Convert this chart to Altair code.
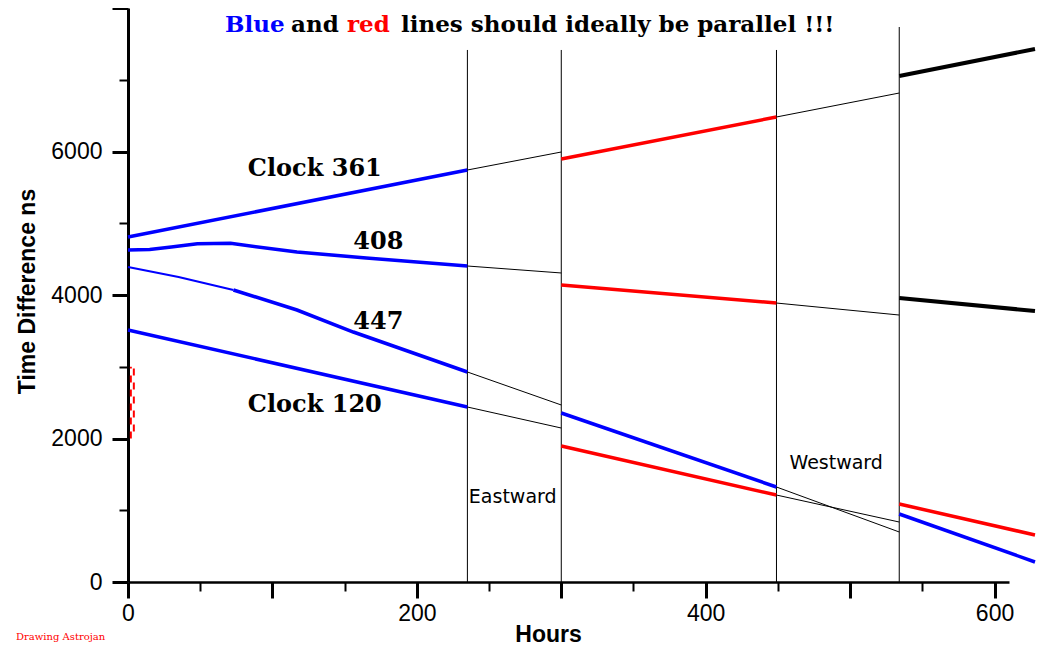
import altair as alt
import pandas as pd

# ---------------- data (hours, ns) ----------------
trip_hours = [235, 300, 449, 534]
trip_tops = [7415, 7415, 7415, 7735]

# Clock 361
c361_pre_h, c361_pre_v = [0, 235], [4808, 5742]
c361_gap1_h, c361_gap1_v = [235, 300], [5742, 5993]
c361_east_h, c361_east_v = [300, 449], [5895, 6481]
c361_gap2_h, c361_gap2_v = [449, 534], [6481, 6815]
c361_west_h, c361_west_v = [534, 628], [7052, 7429]

# Clock 408
c408_pre_h, c408_pre_v = [0, 15, 30, 48, 71, 117, 165, 235], [4627, 4635, 4669, 4715, 4720, 4599, 4516, 4404]
c408_gap1_h, c408_gap1_v = [235, 300], [4404, 4307]
c408_east_h, c408_east_v = [300, 449], [4139, 3888]
c408_gap2_h, c408_gap2_v = [449, 534], [3888, 3721]
c408_west_h, c408_west_v = [534, 628], [3958, 3777]

# Clock 447
c447_start_h, c447_start_v = [0, 35, 73], [4390, 4250, 4070]
c447_pre_h, c447_pre_v = [73, 117, 156, 235], [4070, 3791, 3484, 2927]
c447_gap1_h, c447_gap1_v = [235, 300], [2927, 2467]
c447_east_h, c447_east_v = [300, 449], [2355, 1324]
c447_gap2_h, c447_gap2_v = [449, 534], [1324, 697]
c447_west_h, c447_west_v = [534, 628], [948, 279]

# Clock 120
c120_pre_h, c120_pre_v = [0, 235], [3512, 2439]
c120_gap1_h, c120_gap1_v = [235, 300], [2439, 2146]
c120_east_h, c120_east_v = [300, 449], [1895, 1212]
c120_gap2_h, c120_gap2_v = [449, 534], [1212, 836]
c120_west_h, c120_west_v = [534, 628], [1087, 655]

err_h, err_lo, err_hi = 3, 2000, 3000

clock_labels = ["Clock 361", "408", "447", "Clock 120"]
clock_label_h = [83, 156, 156, 83]
clock_label_v = [5658, 4641, 3526, 2369]

dir_labels = ["Eastward", "Westward"]
dir_label_h = [236, 458]
dir_label_v = [1101, 1575]

x_major = [0, 100, 200, 300, 400, 500, 600]
x_minor = [50, 150, 250, 350, 450, 550]
y_major = [0, 2000, 4000, 6000, 8000]
y_minor = [1000, 3000, 5000, 7000]

# ---------------- build tables ----------------
segments = [
    ("361a", "blue", c361_pre_h, c361_pre_v),
    ("361b", "gap", c361_gap1_h, c361_gap1_v),
    ("361c", "red", c361_east_h, c361_east_v),
    ("361d", "gap", c361_gap2_h, c361_gap2_v),
    ("361e", "black", c361_west_h, c361_west_v),
    ("408a", "blue", c408_pre_h, c408_pre_v),
    ("408b", "gap", c408_gap1_h, c408_gap1_v),
    ("408c", "red", c408_east_h, c408_east_v),
    ("408d", "gap", c408_gap2_h, c408_gap2_v),
    ("408e", "black", c408_west_h, c408_west_v),
    ("447s", "bluethin", c447_start_h, c447_start_v),
    ("447a", "blue", c447_pre_h, c447_pre_v),
    ("447b", "gap", c447_gap1_h, c447_gap1_v),
    ("447c", "blue", c447_east_h, c447_east_v),
    ("447d", "gap", c447_gap2_h, c447_gap2_v),
    ("447e", "blue", c447_west_h, c447_west_v),
    ("120a", "blue", c120_pre_h, c120_pre_v),
    ("120b", "gap", c120_gap1_h, c120_gap1_v),
    ("120c", "red", c120_east_h, c120_east_v),
    ("120d", "gap", c120_gap2_h, c120_gap2_v),
    ("120e", "red", c120_west_h, c120_west_v),
]
rows = []
for seg, kind, hs, vs in segments:
    for i, (h, v) in enumerate(zip(hs, vs)):
        rows.append({"seg": seg, "kind": kind, "hours": h, "ns": v, "i": i})
lines_df = pd.DataFrame(rows)

trips_df = pd.DataFrame({"hours": trip_hours, "top": trip_tops})
err_df = pd.DataFrame({"hours": [err_h], "lo": [err_lo], "hi": [err_hi]})
clock_df = pd.DataFrame({"text": clock_labels, "hours": clock_label_h, "ns": clock_label_v})
dir_df = pd.DataFrame({"text": dir_labels, "hours": dir_label_h, "ns": dir_label_v})
one = pd.DataFrame({"k": [0]})

XW, YH = 881, 574
xs = alt.Scale(domain=[0, 610], nice=False, zero=False)
ys = alt.Scale(domain=[0, 8000], nice=False)

main_x_axis = alt.Axis(
    values=x_major, format="d",
    labelExpr="datum.value % 200 === 0 ? datum.label : ''",
    tickSize=16, tickWidth=3, tickColor="black",
    domainColor="black", domainWidth=2.5,
    labelFont="Liberation Sans", labelFontSize=23, labelColor="black", labelPadding=4,
    labelFlush=False, labelOverlap=False,
    title="Hours", titleFont="Liberation Sans", titleFontSize=23, titleFontWeight="bold",
    titleColor="black", titleX=420, titleY=59, titleBaseline="alphabetic", titleAlign="center",
    grid=False, orient="bottom",
)
main_y_axis = alt.Axis(
    values=y_major, format="d",
    labelExpr="datum.value < 8000 ? datum.label : ''",
    tickSize=16, tickWidth=3, tickColor="black",
    domainColor="black", domainWidth=3,
    labelFont="Liberation Sans", labelFontSize=23, labelColor="black", labelPadding=10,
    labelFlush=False, labelOverlap=False,
    title="Time Difference ns", titleFont="Liberation Sans", titleFontSize=23, titleFontWeight="bold",
    titleColor="black", titleX=-94, titleY=283, titleAngle=270, titleBaseline="alphabetic", titleAlign="center",
    grid=False, orient="left",
)
minor_x_axis = alt.Axis(values=x_minor, tickSize=9, tickWidth=2, tickColor="black",
                        labels=False, domain=False, title=None, grid=False, orient="bottom")
minor_y_axis = alt.Axis(values=y_minor, tickSize=9, tickWidth=2, tickColor="black",
                        labels=False, domain=False, title=None, grid=False, orient="left")

trips = alt.Chart(trips_df).mark_rule(color="black", strokeWidth=1).encode(
    x=alt.X("hours:Q", scale=xs, axis=main_x_axis),
    y=alt.Y("top:Q", scale=ys, axis=main_y_axis),
    y2=alt.datum(0),
)

minor = alt.Chart(one).mark_point(opacity=0).encode(
    x=alt.X("k:Q", scale=xs, axis=minor_x_axis),
    y=alt.Y("k:Q", scale=ys, axis=minor_y_axis),
)

kinds = ["blue", "bluethin", "red", "black", "gap"]
lines = alt.Chart(lines_df).mark_line(strokeCap="butt").encode(
    x=alt.X("hours:Q", scale=xs, axis=None),
    y=alt.Y("ns:Q", scale=ys, axis=None),
    detail="seg:N",
    order="i:Q",
    color=alt.Color("kind:N", scale=alt.Scale(type="ordinal", domain=kinds,
                    range=["#0000ff", "#0000ff", "#ff0000", "#000000", "#000000"]), legend=None),
    strokeWidth=alt.StrokeWidth("kind:N", scale=alt.Scale(type="ordinal", domain=kinds,
                                range=[3.5, 2, 3.5, 4, 1]), legend=None),
)

err1 = alt.Chart(err_df).mark_rule(color="#ff0000", strokeWidth=2, strokeDash=[7, 7], xOffset=-1.5).encode(
    x=alt.X("hours:Q", scale=xs, axis=None),
    y=alt.Y("lo:Q", scale=ys, axis=None), y2="hi:Q")
err2 = alt.Chart(err_df).mark_rule(color="#ff0000", strokeWidth=2, strokeDash=[7, 7], strokeDashOffset=7, xOffset=1.5).encode(
    x=alt.X("hours:Q", scale=xs, axis=None),
    y=alt.Y("lo:Q", scale=ys, axis=None), y2="hi:Q")

clock_text = alt.Chart(clock_df).mark_text(
    font="DejaVu Serif", fontWeight="bold", fontSize=24, align="left", baseline="alphabetic", color="black"
).encode(x=alt.X("hours:Q", scale=xs, axis=None), y=alt.Y("ns:Q", scale=ys, axis=None), text="text:N")

dir_text = alt.Chart(dir_df).mark_text(
    font="DejaVu Sans", fontSize=19, align="left", baseline="alphabetic", color="black"
).encode(x=alt.X("hours:Q", scale=xs, axis=None), y=alt.Y("ns:Q", scale=ys, axis=None), text="text:N")

def title_piece(txt, px, color):
    return alt.Chart(one).mark_text(
        text=txt, font="DejaVu Serif", fontWeight="bold", fontSize=23,
        align="left", baseline="alphabetic", color=color
    ).encode(x=alt.value(px), y=alt.value(24))

t1 = title_piece("Blue", 97, "#0000ff")
t2 = title_piece("and", 163, "black")
t3 = title_piece("red", 219, "#ff0000")
t4 = title_piece("lines should ideally be parallel !!!", 273, "black")

credit = alt.Chart(one).mark_text(
    text="Drawing Astrojan", font="DejaVu Serif", fontSize=10, align="left",
    baseline="alphabetic", color="#ff0000"
).encode(x=alt.value(-112), y=alt.value(632))

chart = alt.layer(
    trips, minor, lines, err1, err2, clock_text, dir_text, t1, t2, t3, t4, credit
).resolve_axis(x="independent", y="independent").properties(
    width=XW, height=YH,
    autosize=alt.AutoSizeParams(type="none"),
    padding={"left": 120, "top": 0, "right": 30, "bottom": 66},
    background="white",
).configure_view(stroke=None)

chart.save("out.html", embed_options={"renderer": "svg", "actions": False})
